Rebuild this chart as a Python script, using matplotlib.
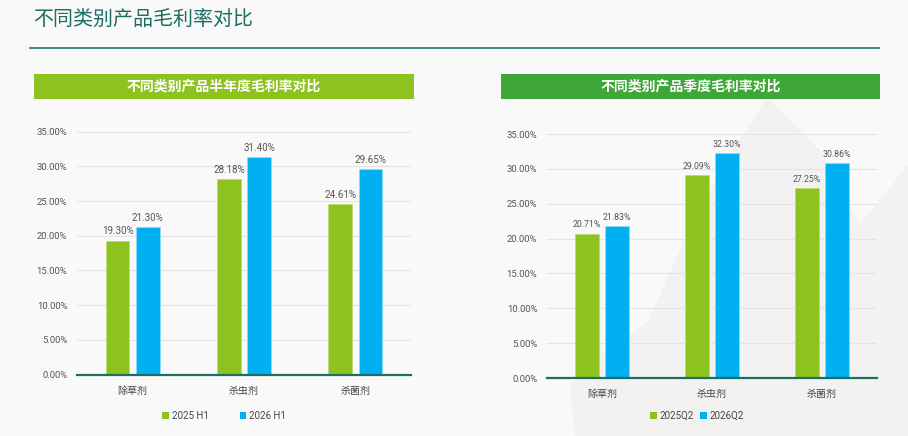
import matplotlib
matplotlib.use("Agg")
import matplotlib.pyplot as plt
from matplotlib.patches import Polygon, Rectangle, Patch
from matplotlib.lines import Line2D
import numpy as np

plt.rcParams['font.family'] = ['Roboto', 'Noto Sans CJK SC', 'DejaVu Sans']

# ---- data ----
categories = ['除草剂', '杀虫剂', '杀菌剂']
h1_2025 = [19.30, 28.18, 24.61]
h1_2026 = [21.30, 31.40, 29.65]
q2_2025 = [20.71, 29.09, 27.25]
q2_2026 = [21.83, 32.30, 30.86]
left_series = ['2025 H1', '2026 H1']
right_series = ['2025Q2', '2026Q2']
yticks = [0, 5, 10, 15, 20, 25, 30, 35]
main_title = '不同类别产品毛利率对比'
left_title = '不同类别产品半年度毛利率对比'
right_title = '不同类别产品季度毛利率对比'

W, H = 908, 436
BG = '#f9f9f9'
GREEN = '#8dc21f'
BLUE = '#00b0f0'
TEAL = '#1b6e61'

fig = plt.figure(figsize=(W / 100, H / 100), dpi=100, facecolor=BG)

def fx(x): return x / W
def fy(y): return 1 - y / H

# background decoration (faint leaf shape)
leaf = Polygon([(fx(767), fy(98)), (fx(720), fy(170)), (fx(680), fy(250)),
                (fx(648), fy(322)), (fx(610), fy(345)), (fx(570), fy(385)),
                (fx(575), fy(436)), (fx(908), fy(436)), (fx(908), fy(165)),
                (fx(860), fy(225)), (fx(820), fy(150))],
               closed=True, transform=fig.transFigure, facecolor='#f2f2f2',
               edgecolor='none', zorder=-5)
fig.patches.append(leaf)

# main title and rule
fig.text(fx(33), fy(19), main_title, fontsize=14.4, color=TEAL,
         ha='left', va='center')
fig.add_artist(Line2D([fx(30), fx(879)], [fy(47.7), fy(47.7)],
                      transform=fig.transFigure, color='#3a8c82', lw=1.4))

# header banners
def banner(x0, x1, color, text):
    fig.patches.append(Rectangle((fx(x0), fy(99)), fx(x1) - fx(x0), fy(74) - fy(99),
                                 transform=fig.transFigure, facecolor=color,
                                 edgecolor='none', zorder=1))
    fig.text(fx((x0 + x1) / 2), fy(86.5), text, fontsize=10, fontweight='bold',
             color='white', ha='center', va='center', zorder=2)

banner(34, 414, GREEN, left_title)
banner(501, 880, '#3ea737', right_title)

def chart(x0, x1, ytop, ybot, s1, s2, names, lab_fs, leg_y, leg_x, colsp):
    ax = fig.add_axes([fx(x0), fy(ybot), fx(x1) - fx(x0), fy(ytop) - fy(ybot)])
    ax.set_facecolor('none')
    x = np.arange(len(categories))
    w = 0.213
    off = 0.135
    b1 = ax.bar(x - off, s1, w, color=GREEN, edgecolor='#b9dc78', linewidth=0.6, zorder=3)
    b2 = ax.bar(x + off, s2, w, color=BLUE, edgecolor='#8fd9f7', linewidth=0.6, zorder=3)
    for bars, vals in ((b1, s1), (b2, s2)):
        for r, v in zip(bars, vals):
            ax.annotate(f'{v:.2f}%', (r.get_x() + r.get_width() / 2, v),
                        xytext=(0, 3), textcoords='offset points', ha='center',
                        va='bottom', fontsize=lab_fs, color='#555555')
    ax.set_xlim(-0.5, len(categories) - 0.5)
    ax.set_ylim(0, 35)
    ax.set_yticks(yticks)
    ax.set_yticklabels([f'{t:.2f}%' for t in yticks])
    ax.set_xticks(x)
    ax.set_xticklabels(categories)
    ax.tick_params(axis='y', length=0, labelsize=6.8, labelcolor='#555555', pad=7)
    ax.tick_params(axis='x', length=0, labelsize=7.2, labelcolor='#444444', pad=8)
    ax.grid(axis='y', color='#e4e4e4', lw=0.9, zorder=0)
    for s in ('top', 'right', 'left'):
        ax.spines[s].set_visible(False)
    ax.spines['bottom'].set_color(TEAL)
    ax.spines['bottom'].set_linewidth(1.6)
    ax.spines['bottom'].set_zorder(4)
    handles = [Patch(facecolor=GREEN, edgecolor='none'),
               Patch(facecolor=BLUE, edgecolor='none')]
    fig.legend(handles, names, loc='center', bbox_to_anchor=(fx(leg_x), fy(leg_y)),
               ncol=2, frameon=False, fontsize=7, handlelength=0.7, handleheight=0.7,
               handletextpad=0.3, columnspacing=colsp, labelcolor='#444444')
    return ax

chart(77, 411, 131.7, 374.5, h1_2025, h1_2026, left_series, 7.0, 415.5, 224, 3.2)
chart(547, 877, 134, 378, q2_2025, q2_2026, right_series, 6.3, 416, 697, 0.6)

fig.savefig('out.png', dpi=100, facecolor=BG)
